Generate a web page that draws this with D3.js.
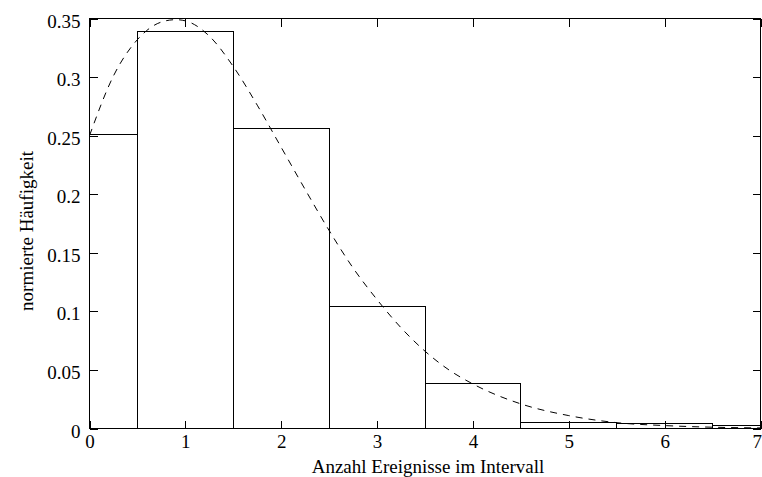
<!DOCTYPE html>
<html>
<head>
<meta charset="utf-8">
<script src="https://cdn.jsdelivr.net/npm/d3@7/dist/d3.min.js"></script>
<style>
  body { margin: 0; background: #fff; }
  text { font-family: "Liberation Serif", "Times New Roman", serif; fill: #000; }
</style>
</head>
<body>
<svg id="chart" width="762" height="477"></svg>
<script>
// histogram: events per interval (bar centred on count)
const counts = [0, 1, 2, 3, 4, 5, 6, 7];
const freqs = [0.251, 0.339, 0.256, 0.104, 0.0385, 0.0048, 0.0045, 0.0023];

// dashed fit curve
const curveX = [0, 0.25, 0.5, 0.75, 0.9, 1, 1.25, 1.5, 1.75, 2, 2.25, 2.5, 2.75, 3, 3.25, 3.5, 3.75, 4, 4.5, 5, 5.5, 6, 6.5, 7];
const curveY = [0.250, 0.301, 0.332, 0.347, 0.349, 0.348, 0.335, 0.309, 0.276, 0.240, 0.204, 0.169, 0.137, 0.110, 0.086, 0.066, 0.050, 0.038, 0.021, 0.011, 0.005, 0.0025, 0.0011, 0.0005];

// axes ticks
const xTicks = [0, 1, 2, 3, 4, 5, 6, 7];
const yTicks = [0, 0.05, 0.1, 0.15, 0.2, 0.25, 0.3, 0.35];

const xLabel = 'Anzahl Ereignisse im Intervall';
const yLabel = 'normierte Häufigkeit';

// plot box
const pLeft = 89.5, pRight = 760.5, pTop = 18.5, pBottom = 428.5;
const tick = 8;

const svg = d3.select('#chart');

const x = d3.scaleLinear().domain([0, 7]).range([pLeft, pRight]);
const y = d3.scaleLinear().domain([0, 0.35]).range([pBottom, pTop]);

// clip for bars / curve
svg.append('defs').append('clipPath').attr('id', 'plotClip')
  .append('rect')
  .attr('x', pLeft).attr('y', pTop - 2)
  .attr('width', pRight - pLeft).attr('height', pBottom - pTop + 2);

const plot = svg.append('g').attr('clip-path', 'url(#plotClip)');

// bars
plot.selectAll('.bar')
  .data(counts)
  .join('rect')
  .attr('class', 'bar')
  .attr('x', (d) => x(d - 0.5))
  .attr('y', (d, i) => y(freqs[i]))
  .attr('width', (d) => x(d + 0.5) - x(d - 0.5))
  .attr('height', (d, i) => y(0) - y(freqs[i]))
  .attr('fill', 'none')
  .attr('stroke', '#000')
  .attr('stroke-width', 1)
  .attr('shape-rendering', 'crispEdges');

// dashed curve
const line = d3.line()
  .x((d, i) => x(curveX[i]))
  .y((d) => y(d))
  .curve(d3.curveMonotoneX);

plot.append('path')
  .datum(curveY)
  .attr('d', line)
  .attr('fill', 'none')
  .attr('stroke', '#000')
  .attr('stroke-width', 1)
  .attr('stroke-dasharray', '7,6');

// axes, ticks pointing inward on all four sides
const fmt = (d) => String(d);

const axB = svg.append('g')
  .attr('transform', `translate(0,${pBottom})`)
  .call(d3.axisBottom(x).tickValues(xTicks).tickFormat(fmt).tickSize(-tick).tickPadding(16));
const axT = svg.append('g')
  .attr('transform', `translate(0,${pTop})`)
  .call(d3.axisTop(x).tickValues(xTicks).tickFormat('').tickSize(-tick));
const axL = svg.append('g')
  .attr('transform', `translate(${pLeft},0)`)
  .call(d3.axisLeft(y).tickValues(yTicks).tickFormat(fmt).tickSize(-tick).tickPadding(9));
const axR = svg.append('g')
  .attr('transform', `translate(${pRight},0)`)
  .call(d3.axisRight(y).tickValues(yTicks).tickFormat('').tickSize(-tick));

[axB, axT, axL, axR].forEach((g) => {
  g.select('.domain').remove();
  g.selectAll('line').attr('stroke', '#000').attr('shape-rendering', 'crispEdges');
  g.selectAll('text')
    .style('font-family', '"Liberation Serif", serif')
    .style('font-size', '19px')
    .attr('fill', '#000');
});
axL.selectAll('text').attr('dy', '0.45em');
axB.selectAll('text').attr('dy', '0.2em');
// last label sits on the page edge: keep it inside
axB.selectAll('.tick').filter((d) => d === 7)
  .select('text').attr('text-anchor', 'end').attr('x', 1);

// frame
svg.append('rect')
  .attr('x', pLeft).attr('y', pTop)
  .attr('width', pRight - pLeft).attr('height', pBottom - pTop)
  .attr('fill', 'none')
  .attr('stroke', '#000')
  .attr('shape-rendering', 'crispEdges');

// axis titles
svg.append('text')
  .attr('x', 428)
  .attr('y', 473)
  .attr('text-anchor', 'middle')
  .style('font-size', '19px')
  .text(xLabel);

svg.append('text')
  .attr('transform', 'translate(33,231) rotate(-90)')
  .attr('text-anchor', 'middle')
  .style('font-size', '19px')
  .text(yLabel);
</script>
</body>
</html>
